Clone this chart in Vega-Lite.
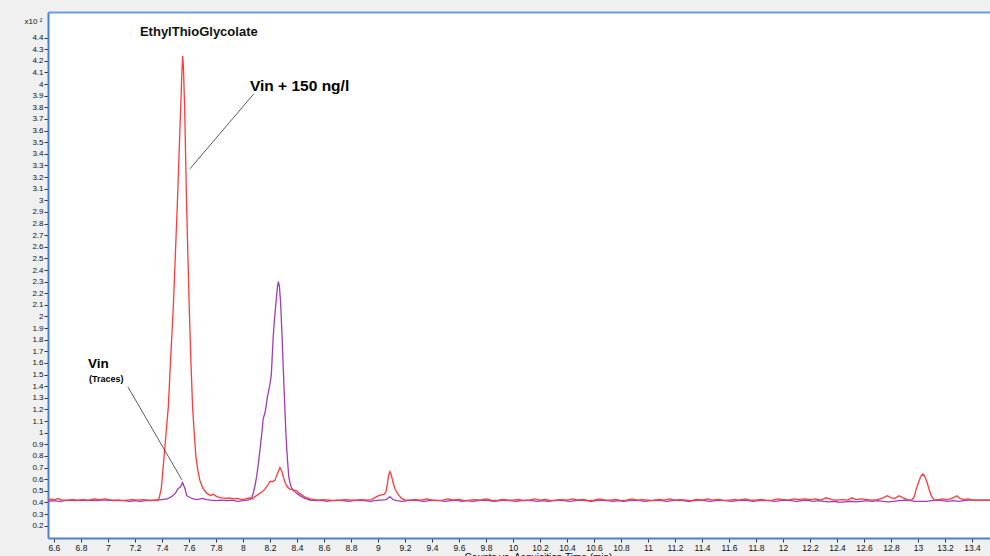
{
  "$schema": "https://vega.github.io/schema/vega-lite/v6.json",
  "width": 942,
  "height": 526,
  "autosize": {"type": "none"},
  "padding": {"left": 48, "top": 12, "right": 0, "bottom": 18},
  "background": "#f0f0f0",
  "config": {
    "view": {"stroke": null, "fill": "#ffffff"},
    "axis": {"labelFont": "Liberation Sans", "titleFont": "Liberation Sans", "grid": false}
  },
  "datasets": {
    "vin": [
      {"t": 6.556, "v": 0.41}, {"t": 6.6, "v": 0.415}, {"t": 6.64, "v": 0.41}, {"t": 6.68, "v": 0.415}, {"t": 6.72, "v": 0.42}, {"t": 6.76, "v": 0.415}, {"t": 6.8, "v": 0.42}, {"t": 6.84, "v": 0.415}, {"t": 6.88, "v": 0.42}, {"t": 6.92, "v": 0.415}, {"t": 6.96, "v": 0.42}, {"t": 7.0, "v": 0.42}, {"t": 7.04, "v": 0.415}, {"t": 7.08, "v": 0.42}, {"t": 7.12, "v": 0.415}, {"t": 7.16, "v": 0.41}, {"t": 7.2, "v": 0.415}, {"t": 7.24, "v": 0.41}, {"t": 7.28, "v": 0.415}, {"t": 7.32, "v": 0.415}, {"t": 7.36, "v": 0.42}, {"t": 7.4, "v": 0.425}, {"t": 7.44, "v": 0.43}, {"t": 7.47, "v": 0.45}, {"t": 7.5, "v": 0.48}, {"t": 7.52, "v": 0.52}, {"t": 7.535, "v": 0.53}, {"t": 7.553, "v": 0.57}, {"t": 7.57, "v": 0.52}, {"t": 7.583, "v": 0.46}, {"t": 7.61, "v": 0.44}, {"t": 7.632, "v": 0.43}, {"t": 7.66, "v": 0.425}, {"t": 7.7, "v": 0.435}, {"t": 7.73, "v": 0.425}, {"t": 7.76, "v": 0.42}, {"t": 7.8, "v": 0.415}, {"t": 7.84, "v": 0.42}, {"t": 7.88, "v": 0.415}, {"t": 7.92, "v": 0.42}, {"t": 7.96, "v": 0.41}, {"t": 8.0, "v": 0.415}, {"t": 8.03, "v": 0.42}, {"t": 8.05, "v": 0.425}, {"t": 8.064, "v": 0.436}, {"t": 8.076, "v": 0.479}, {"t": 8.09, "v": 0.55}, {"t": 8.101, "v": 0.622}, {"t": 8.115, "v": 0.74}, {"t": 8.126, "v": 0.851}, {"t": 8.14, "v": 1.0}, {"t": 8.15, "v": 1.12}, {"t": 8.165, "v": 1.18}, {"t": 8.18, "v": 1.3}, {"t": 8.2, "v": 1.42}, {"t": 8.21, "v": 1.5}, {"t": 8.224, "v": 1.826}, {"t": 8.234, "v": 1.98}, {"t": 8.244, "v": 2.114}, {"t": 8.255, "v": 2.25}, {"t": 8.262, "v": 2.3}, {"t": 8.27, "v": 2.26}, {"t": 8.279, "v": 2.114}, {"t": 8.29, "v": 1.82}, {"t": 8.299, "v": 1.54}, {"t": 8.309, "v": 1.25}, {"t": 8.319, "v": 0.966}, {"t": 8.329, "v": 0.78}, {"t": 8.339, "v": 0.622}, {"t": 8.35, "v": 0.56}, {"t": 8.361, "v": 0.522}, {"t": 8.38, "v": 0.495}, {"t": 8.398, "v": 0.479}, {"t": 8.42, "v": 0.46}, {"t": 8.447, "v": 0.441}, {"t": 8.47, "v": 0.43}, {"t": 8.496, "v": 0.421}, {"t": 8.54, "v": 0.415}, {"t": 8.58, "v": 0.42}, {"t": 8.62, "v": 0.41}, {"t": 8.66, "v": 0.415}, {"t": 8.7, "v": 0.42}, {"t": 8.74, "v": 0.415}, {"t": 8.78, "v": 0.41}, {"t": 8.82, "v": 0.415}, {"t": 8.86, "v": 0.42}, {"t": 8.9, "v": 0.415}, {"t": 8.94, "v": 0.41}, {"t": 8.98, "v": 0.415}, {"t": 9.02, "v": 0.42}, {"t": 9.06, "v": 0.425}, {"t": 9.089, "v": 0.45}, {"t": 9.11, "v": 0.425}, {"t": 9.14, "v": 0.415}, {"t": 9.18, "v": 0.41}, {"t": 9.22, "v": 0.415}, {"t": 9.26, "v": 0.42}, {"t": 9.3, "v": 0.415}, {"t": 9.34, "v": 0.41}, {"t": 9.38, "v": 0.415}, {"t": 9.42, "v": 0.42}, {"t": 9.46, "v": 0.415}, {"t": 9.5, "v": 0.41}, {"t": 9.54, "v": 0.415}, {"t": 9.58, "v": 0.42}, {"t": 9.62, "v": 0.41}, {"t": 9.66, "v": 0.415}, {"t": 9.7, "v": 0.41}, {"t": 9.74, "v": 0.415}, {"t": 9.78, "v": 0.42}, {"t": 9.82, "v": 0.415}, {"t": 9.86, "v": 0.41}, {"t": 9.9, "v": 0.415}, {"t": 9.94, "v": 0.42}, {"t": 9.98, "v": 0.415}, {"t": 10.02, "v": 0.41}, {"t": 10.06, "v": 0.415}, {"t": 10.1, "v": 0.42}, {"t": 10.14, "v": 0.415}, {"t": 10.18, "v": 0.41}, {"t": 10.22, "v": 0.415}, {"t": 10.26, "v": 0.41}, {"t": 10.3, "v": 0.415}, {"t": 10.34, "v": 0.42}, {"t": 10.38, "v": 0.415}, {"t": 10.42, "v": 0.41}, {"t": 10.46, "v": 0.415}, {"t": 10.5, "v": 0.42}, {"t": 10.54, "v": 0.415}, {"t": 10.58, "v": 0.41}, {"t": 10.62, "v": 0.415}, {"t": 10.66, "v": 0.42}, {"t": 10.7, "v": 0.415}, {"t": 10.74, "v": 0.41}, {"t": 10.78, "v": 0.415}, {"t": 10.82, "v": 0.41}, {"t": 10.86, "v": 0.415}, {"t": 10.9, "v": 0.42}, {"t": 10.94, "v": 0.415}, {"t": 10.98, "v": 0.41}, {"t": 11.02, "v": 0.415}, {"t": 11.06, "v": 0.42}, {"t": 11.1, "v": 0.415}, {"t": 11.14, "v": 0.41}, {"t": 11.18, "v": 0.415}, {"t": 11.22, "v": 0.42}, {"t": 11.26, "v": 0.415}, {"t": 11.3, "v": 0.41}, {"t": 11.34, "v": 0.415}, {"t": 11.38, "v": 0.42}, {"t": 11.42, "v": 0.415}, {"t": 11.46, "v": 0.41}, {"t": 11.5, "v": 0.415}, {"t": 11.54, "v": 0.42}, {"t": 11.58, "v": 0.415}, {"t": 11.62, "v": 0.41}, {"t": 11.66, "v": 0.415}, {"t": 11.7, "v": 0.42}, {"t": 11.74, "v": 0.415}, {"t": 11.78, "v": 0.41}, {"t": 11.82, "v": 0.415}, {"t": 11.86, "v": 0.42}, {"t": 11.9, "v": 0.415}, {"t": 11.94, "v": 0.41}, {"t": 11.98, "v": 0.415}, {"t": 12.02, "v": 0.42}, {"t": 12.06, "v": 0.415}, {"t": 12.1, "v": 0.41}, {"t": 12.14, "v": 0.415}, {"t": 12.18, "v": 0.42}, {"t": 12.22, "v": 0.41}, {"t": 12.26, "v": 0.415}, {"t": 12.3, "v": 0.41}, {"t": 12.34, "v": 0.405}, {"t": 12.38, "v": 0.41}, {"t": 12.42, "v": 0.4}, {"t": 12.46, "v": 0.405}, {"t": 12.5, "v": 0.41}, {"t": 12.54, "v": 0.405}, {"t": 12.58, "v": 0.41}, {"t": 12.62, "v": 0.415}, {"t": 12.66, "v": 0.41}, {"t": 12.7, "v": 0.415}, {"t": 12.74, "v": 0.41}, {"t": 12.78, "v": 0.405}, {"t": 12.82, "v": 0.41}, {"t": 12.86, "v": 0.415}, {"t": 12.9, "v": 0.42}, {"t": 12.94, "v": 0.415}, {"t": 12.98, "v": 0.41}, {"t": 13.02, "v": 0.41}, {"t": 13.06, "v": 0.41}, {"t": 13.1, "v": 0.415}, {"t": 13.14, "v": 0.42}, {"t": 13.18, "v": 0.415}, {"t": 13.22, "v": 0.41}, {"t": 13.26, "v": 0.415}, {"t": 13.3, "v": 0.41}, {"t": 13.34, "v": 0.415}, {"t": 13.38, "v": 0.42}, {"t": 13.42, "v": 0.42}, {"t": 13.46, "v": 0.42}, {"t": 13.533, "v": 0.42}
    ],
    "spiked": [
      {"t": 6.556, "v": 0.42}, {"t": 6.58, "v": 0.43}, {"t": 6.6, "v": 0.42}, {"t": 6.63, "v": 0.435}, {"t": 6.66, "v": 0.42}, {"t": 6.7, "v": 0.42}, {"t": 6.74, "v": 0.425}, {"t": 6.78, "v": 0.42}, {"t": 6.82, "v": 0.425}, {"t": 6.86, "v": 0.42}, {"t": 6.9, "v": 0.43}, {"t": 6.94, "v": 0.425}, {"t": 6.98, "v": 0.43}, {"t": 7.02, "v": 0.42}, {"t": 7.06, "v": 0.42}, {"t": 7.1, "v": 0.415}, {"t": 7.14, "v": 0.42}, {"t": 7.18, "v": 0.425}, {"t": 7.22, "v": 0.42}, {"t": 7.26, "v": 0.425}, {"t": 7.3, "v": 0.42}, {"t": 7.34, "v": 0.42}, {"t": 7.37, "v": 0.42}, {"t": 7.38, "v": 0.44}, {"t": 7.395, "v": 0.52}, {"t": 7.405, "v": 0.65}, {"t": 7.425, "v": 0.92}, {"t": 7.447, "v": 1.22}, {"t": 7.465, "v": 1.65}, {"t": 7.484, "v": 2.08}, {"t": 7.5, "v": 2.55}, {"t": 7.513, "v": 2.94}, {"t": 7.527, "v": 3.4}, {"t": 7.539, "v": 3.8}, {"t": 7.547, "v": 4.08}, {"t": 7.553, "v": 4.24}, {"t": 7.559, "v": 4.15}, {"t": 7.568, "v": 3.8}, {"t": 7.583, "v": 2.94}, {"t": 7.602, "v": 2.08}, {"t": 7.615, "v": 1.6}, {"t": 7.627, "v": 1.22}, {"t": 7.64, "v": 0.98}, {"t": 7.652, "v": 0.79}, {"t": 7.665, "v": 0.68}, {"t": 7.681, "v": 0.59}, {"t": 7.7, "v": 0.53}, {"t": 7.731, "v": 0.48}, {"t": 7.76, "v": 0.46}, {"t": 7.78, "v": 0.47}, {"t": 7.805, "v": 0.45}, {"t": 7.84, "v": 0.44}, {"t": 7.87, "v": 0.435}, {"t": 7.9, "v": 0.44}, {"t": 7.93, "v": 0.43}, {"t": 7.96, "v": 0.435}, {"t": 7.99, "v": 0.425}, {"t": 8.02, "v": 0.43}, {"t": 8.052, "v": 0.44}, {"t": 8.07, "v": 0.43}, {"t": 8.089, "v": 0.45}, {"t": 8.115, "v": 0.47}, {"t": 8.139, "v": 0.49}, {"t": 8.16, "v": 0.51}, {"t": 8.176, "v": 0.535}, {"t": 8.19, "v": 0.56}, {"t": 8.2, "v": 0.58}, {"t": 8.22, "v": 0.58}, {"t": 8.237, "v": 0.59}, {"t": 8.255, "v": 0.65}, {"t": 8.274, "v": 0.7}, {"t": 8.287, "v": 0.67}, {"t": 8.299, "v": 0.62}, {"t": 8.313, "v": 0.57}, {"t": 8.328, "v": 0.535}, {"t": 8.345, "v": 0.515}, {"t": 8.361, "v": 0.513}, {"t": 8.38, "v": 0.505}, {"t": 8.398, "v": 0.5}, {"t": 8.415, "v": 0.48}, {"t": 8.435, "v": 0.465}, {"t": 8.46, "v": 0.445}, {"t": 8.496, "v": 0.43}, {"t": 8.53, "v": 0.425}, {"t": 8.56, "v": 0.42}, {"t": 8.6, "v": 0.425}, {"t": 8.64, "v": 0.42}, {"t": 8.68, "v": 0.415}, {"t": 8.72, "v": 0.42}, {"t": 8.76, "v": 0.425}, {"t": 8.8, "v": 0.42}, {"t": 8.84, "v": 0.42}, {"t": 8.88, "v": 0.425}, {"t": 8.92, "v": 0.42}, {"t": 8.953, "v": 0.425}, {"t": 8.99, "v": 0.45}, {"t": 9.01, "v": 0.46}, {"t": 9.027, "v": 0.465}, {"t": 9.045, "v": 0.47}, {"t": 9.059, "v": 0.49}, {"t": 9.07, "v": 0.56}, {"t": 9.08, "v": 0.64}, {"t": 9.089, "v": 0.665}, {"t": 9.1, "v": 0.63}, {"t": 9.113, "v": 0.565}, {"t": 9.125, "v": 0.52}, {"t": 9.138, "v": 0.49}, {"t": 9.155, "v": 0.46}, {"t": 9.175, "v": 0.435}, {"t": 9.2, "v": 0.42}, {"t": 9.24, "v": 0.42}, {"t": 9.28, "v": 0.425}, {"t": 9.32, "v": 0.42}, {"t": 9.36, "v": 0.43}, {"t": 9.4, "v": 0.42}, {"t": 9.44, "v": 0.415}, {"t": 9.48, "v": 0.42}, {"t": 9.52, "v": 0.43}, {"t": 9.56, "v": 0.42}, {"t": 9.6, "v": 0.425}, {"t": 9.64, "v": 0.415}, {"t": 9.68, "v": 0.42}, {"t": 9.72, "v": 0.425}, {"t": 9.76, "v": 0.42}, {"t": 9.8, "v": 0.43}, {"t": 9.84, "v": 0.42}, {"t": 9.88, "v": 0.415}, {"t": 9.92, "v": 0.425}, {"t": 9.96, "v": 0.42}, {"t": 10.0, "v": 0.42}, {"t": 10.04, "v": 0.425}, {"t": 10.08, "v": 0.415}, {"t": 10.12, "v": 0.42}, {"t": 10.16, "v": 0.43}, {"t": 10.2, "v": 0.42}, {"t": 10.24, "v": 0.425}, {"t": 10.28, "v": 0.415}, {"t": 10.32, "v": 0.42}, {"t": 10.36, "v": 0.425}, {"t": 10.4, "v": 0.42}, {"t": 10.44, "v": 0.43}, {"t": 10.48, "v": 0.42}, {"t": 10.52, "v": 0.425}, {"t": 10.56, "v": 0.415}, {"t": 10.6, "v": 0.42}, {"t": 10.64, "v": 0.43}, {"t": 10.68, "v": 0.42}, {"t": 10.72, "v": 0.42}, {"t": 10.76, "v": 0.425}, {"t": 10.8, "v": 0.415}, {"t": 10.84, "v": 0.42}, {"t": 10.88, "v": 0.43}, {"t": 10.92, "v": 0.42}, {"t": 10.96, "v": 0.425}, {"t": 11.0, "v": 0.42}, {"t": 11.04, "v": 0.415}, {"t": 11.08, "v": 0.425}, {"t": 11.12, "v": 0.42}, {"t": 11.16, "v": 0.43}, {"t": 11.2, "v": 0.42}, {"t": 11.24, "v": 0.425}, {"t": 11.28, "v": 0.42}, {"t": 11.32, "v": 0.415}, {"t": 11.36, "v": 0.425}, {"t": 11.4, "v": 0.42}, {"t": 11.44, "v": 0.43}, {"t": 11.48, "v": 0.42}, {"t": 11.52, "v": 0.425}, {"t": 11.56, "v": 0.415}, {"t": 11.6, "v": 0.42}, {"t": 11.64, "v": 0.425}, {"t": 11.68, "v": 0.42}, {"t": 11.72, "v": 0.43}, {"t": 11.76, "v": 0.42}, {"t": 11.8, "v": 0.42}, {"t": 11.84, "v": 0.425}, {"t": 11.88, "v": 0.415}, {"t": 11.92, "v": 0.42}, {"t": 11.96, "v": 0.43}, {"t": 12.0, "v": 0.425}, {"t": 12.04, "v": 0.42}, {"t": 12.08, "v": 0.43}, {"t": 12.12, "v": 0.425}, {"t": 12.16, "v": 0.43}, {"t": 12.2, "v": 0.425}, {"t": 12.24, "v": 0.43}, {"t": 12.28, "v": 0.42}, {"t": 12.32, "v": 0.44}, {"t": 12.36, "v": 0.425}, {"t": 12.4, "v": 0.42}, {"t": 12.44, "v": 0.425}, {"t": 12.48, "v": 0.42}, {"t": 12.51, "v": 0.44}, {"t": 12.54, "v": 0.425}, {"t": 12.58, "v": 0.43}, {"t": 12.62, "v": 0.425}, {"t": 12.66, "v": 0.42}, {"t": 12.7, "v": 0.425}, {"t": 12.74, "v": 0.44}, {"t": 12.773, "v": 0.458}, {"t": 12.8, "v": 0.44}, {"t": 12.83, "v": 0.435}, {"t": 12.859, "v": 0.458}, {"t": 12.89, "v": 0.44}, {"t": 12.92, "v": 0.425}, {"t": 12.953, "v": 0.42}, {"t": 12.972, "v": 0.45}, {"t": 12.985, "v": 0.51}, {"t": 13.002, "v": 0.565}, {"t": 13.02, "v": 0.625}, {"t": 13.035, "v": 0.645}, {"t": 13.05, "v": 0.625}, {"t": 13.069, "v": 0.565}, {"t": 13.085, "v": 0.5}, {"t": 13.101, "v": 0.45}, {"t": 13.12, "v": 0.42}, {"t": 13.15, "v": 0.425}, {"t": 13.18, "v": 0.43}, {"t": 13.21, "v": 0.425}, {"t": 13.24, "v": 0.43}, {"t": 13.27, "v": 0.445}, {"t": 13.287, "v": 0.458}, {"t": 13.31, "v": 0.435}, {"t": 13.34, "v": 0.425}, {"t": 13.37, "v": 0.43}, {"t": 13.4, "v": 0.42}, {"t": 13.44, "v": 0.42}, {"t": 13.48, "v": 0.42}, {"t": 13.533, "v": 0.42}
    ],
    "leaders": [
      {"t": 8.081, "v": 3.917, "t2": 7.607, "v2": 3.27},
      {"t": 7.148, "v": 1.394, "t2": 7.548, "v2": 0.594}
    ],
    "title": [{"t": 7.237, "v": 4.449, "label": "EthylThioGlycolate"}],
    "big": [{"t": 8.052, "v": 3.985, "label": "Vin + 150 ng/l"}],
    "vinlabel": [{"t": 6.852, "v": 1.592, "label": "Vin"}],
    "small": [{"t": 6.859, "v": 1.462, "label": "(Traces)"}]
  },
  "resolve": {"axis": {"x": "independent", "y": "independent"}},
  "layer": [
    {
      "data": {"name": "vin"},
      "mark": {"type": "line", "color": "#a43bb6", "strokeWidth": 1.3, "clip": true},
      "encoding": {
        "x": {"field": "t", "type": "quantitative",
          "scale": {"domain": [6.556, 13.533], "nice": false, "zero": false},
          "axis": {"orient": "bottom", "values": [6.6, 6.8, 7, 7.2, 7.4, 7.6, 7.8, 8, 8.2, 8.4, 8.6, 8.8, 9, 9.2, 9.4, 9.6, 9.8, 10, 10.2, 10.4, 10.6, 10.8, 11, 11.2, 11.4, 11.6, 11.8, 12, 12.2, 12.4, 12.6, 12.8, 13, 13.2, 13.4],
            "format": "~f", "labelFontSize": 8.5, "labelColor": "#111", "labelPadding": 1, "labelFlush": false,
            "tickSize": 4, "tickColor": "#333", "domainColor": "#4a80d8", "domainWidth": 2,
            "title": "Counts vs. Acquisition Time (min)", "titleFontSize": 10, "titleFontWeight": "normal", "titleColor": "#111",
            "titleX": 490, "titleY": 14, "titleBaseline": "top", "titleAlign": "center"}},
        "y": {"field": "v", "type": "quantitative",
          "scale": {"domain": [0.094, 4.62], "nice": false, "zero": false},
          "axis": {"values": [0.2, 0.3, 0.4, 0.5, 0.6, 0.7, 0.8, 0.9, 1, 1.1, 1.2, 1.3, 1.4, 1.5, 1.6, 1.7, 1.8, 1.9, 2, 2.1, 2.2, 2.3, 2.4, 2.5, 2.6, 2.7, 2.8, 2.9, 3, 3.1, 3.2, 3.3, 3.4, 3.5, 3.6, 3.7, 3.8, 3.9, 4, 4.1, 4.2, 4.3, 4.4],
            "format": "~f", "labelFontSize": 8, "labelColor": "#111", "labelPadding": 1, "labelFlush": false,
            "tickSize": 4, "tickColor": "#333", "domainColor": "#4a80d8", "domainWidth": 2,
            "title": "x10 ²", "titleAngle": 0, "titleFontSize": 8, "titleFontWeight": "normal", "titleColor": "#111",
            "titleX": -15, "titleY": 9, "titleAlign": "center", "titleBaseline": "middle"}}
      }
    },
    {
      "data": {"name": "spiked"},
      "mark": {"type": "line", "color": "#ff3a3a", "strokeWidth": 1.3, "clip": true},
      "encoding": {
        "x": {"field": "t", "type": "quantitative", "axis": {"orient": "top", "labels": false, "ticks": false, "title": null, "domainColor": "#6d9de3", "domainWidth": 2}},
        "y": {"field": "v", "type": "quantitative", "axis": null}
      }
    },
    {
      "data": {"name": "leaders"},
      "mark": {"type": "rule", "color": "#333333", "strokeWidth": 0.8},
      "encoding": {
        "x": {"field": "t", "type": "quantitative", "axis": null},
        "y": {"field": "v", "type": "quantitative", "axis": null},
        "x2": {"field": "t2"},
        "y2": {"field": "v2"}
      }
    },
    {
      "data": {"name": "title"},
      "mark": {"type": "text", "align": "left", "baseline": "middle", "font": "Liberation Sans", "fontSize": 13, "fontWeight": "bold", "color": "#111"},
      "encoding": {
        "x": {"field": "t", "type": "quantitative", "axis": null},
        "y": {"field": "v", "type": "quantitative", "axis": null},
        "text": {"field": "label"}
      }
    },
    {
      "data": {"name": "big"},
      "mark": {"type": "text", "align": "left", "baseline": "middle", "font": "Liberation Sans", "fontSize": 15.5, "fontWeight": "bold", "color": "#000"},
      "encoding": {
        "x": {"field": "t", "type": "quantitative", "axis": null},
        "y": {"field": "v", "type": "quantitative", "axis": null},
        "text": {"field": "label"}
      }
    },
    {
      "data": {"name": "vinlabel"},
      "mark": {"type": "text", "align": "left", "baseline": "middle", "font": "Liberation Sans", "fontSize": 13.5, "fontWeight": "bold", "color": "#000"},
      "encoding": {
        "x": {"field": "t", "type": "quantitative", "axis": null},
        "y": {"field": "v", "type": "quantitative", "axis": null},
        "text": {"field": "label"}
      }
    },
    {
      "data": {"name": "small"},
      "mark": {"type": "text", "align": "left", "baseline": "middle", "font": "Liberation Sans", "fontSize": 9, "fontWeight": "bold", "color": "#000"},
      "encoding": {
        "x": {"field": "t", "type": "quantitative", "axis": null},
        "y": {"field": "v", "type": "quantitative", "axis": null},
        "text": {"field": "label"}
      }
    }
  ]
}
